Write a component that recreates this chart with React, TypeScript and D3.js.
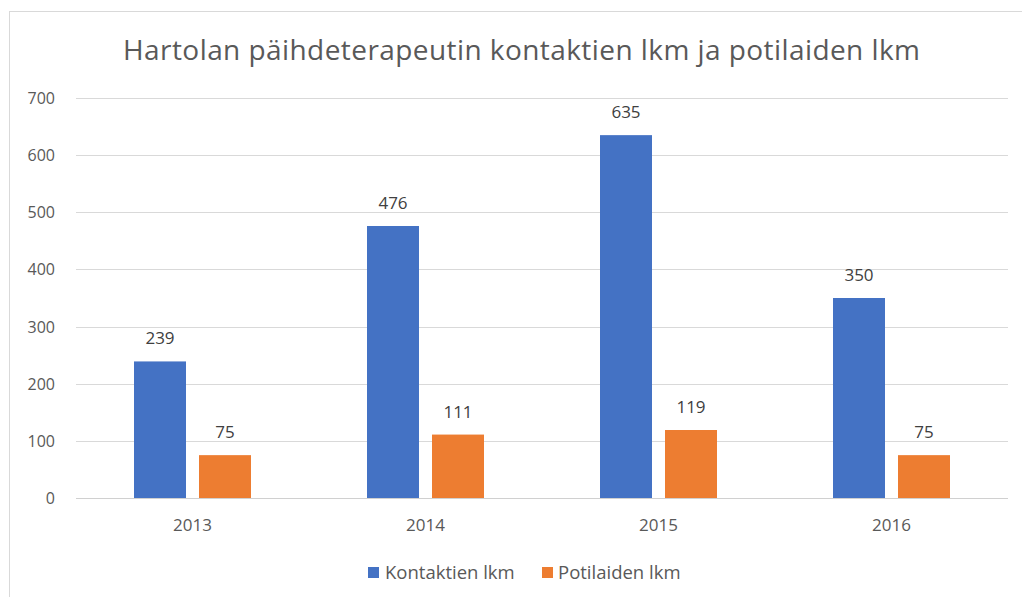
import React from "react";
import * as d3 from "d3";

const categories = ["2013", "2014", "2015", "2016"];
const seriesNames = ["Kontaktien lkm", "Potilaiden lkm"];
const kontaktit = [239, 476, 635, 350];
const potilaat = [75, 111, 119, 75];
const yTicks = [0, 100, 200, 300, 400, 500, 600, 700];
const colors = ["#4472C4", "#ED7D31"];
const title = "Hartolan päihdeterapeutin kontaktien lkm ja potilaiden lkm";

const W = 1022;
const H = 597;
const FONT = "'Open Sans', Lato, sans-serif";

export default function App() {
  const plotL = 76, plotR = 1008, plotT = 98, plotB = 498;
  const x = d3.scaleBand<string>().domain(categories).range([plotL, plotR]).paddingInner(0).paddingOuter(0);
  const y = d3.scaleLinear().domain([0, 700]).range([plotB, plotT]);
  const bw = x.bandwidth();
  const barW = 52;
  const gap = 13;
  const groupW = barW * 2 + gap;
  const series = [kontaktit, potilaat];
  const offset = (i: number) => (bw - groupW) / 2 + i * (barW + gap);

  return (
    <svg width={W} height={H} style={{ position: "fixed", left: 0, top: 0, background: "#fff" }} fontFamily={FONT}>
      <rect x={0} y={0} width={W} height={H} fill="#fff" />
      <line x1={9.5} y1={11} x2={9.5} y2={H} stroke="#d9d9d9" strokeWidth={1} />
      <line x1={9} y1={11.5} x2={W} y2={11.5} stroke="#d9d9d9" strokeWidth={1} />
      <text x={521.5} y={60} textAnchor="middle" fontSize={28} fill="#595959" textLength={797} lengthAdjust="spacing">{title}</text>
      {yTicks.map((t) => (
        <g key={t}>
          <line x1={plotL} x2={plotR} y1={Math.round(y(t)) + 0.5} y2={Math.round(y(t)) + 0.5} stroke={t === 0 ? "#d0d0d0" : "#d9d9d9"} strokeWidth={1} />
          <text x={55} y={y(t) + 6} textAnchor="end" fontSize={16} fill="#595959">{t}</text>
        </g>
      ))}
      {categories.map((c, ci) => (
        <g key={c}>
          {series.map((s, si) => {
            const bx = (x(c) as number) + offset(si);
            const by = y(s[ci]);
            return (
              <g key={si}>
                <rect x={bx} y={by} width={barW} height={plotB - by} fill={colors[si]} />
                <text x={bx + barW / 2} y={by - 17} textAnchor="middle" fontSize={17} fill="#404040">{s[ci]}</text>
              </g>
            );
          })}
          <text x={(x(c) as number) + bw / 2} y={531} textAnchor="middle" fontSize={17} fill="#595959">{c}</text>
        </g>
      ))}
      <g>
        <rect x={368} y={567} width={11} height={11} fill={colors[0]} />
        <text x={385} y={579} fontSize={18.5} fill="#595959">{seriesNames[0]}</text>
        <rect x={542} y={567} width={11} height={11} fill={colors[1]} />
        <text x={558} y={579} fontSize={18.5} fill="#595959">{seriesNames[1]}</text>
      </g>
    </svg>
  );
}
